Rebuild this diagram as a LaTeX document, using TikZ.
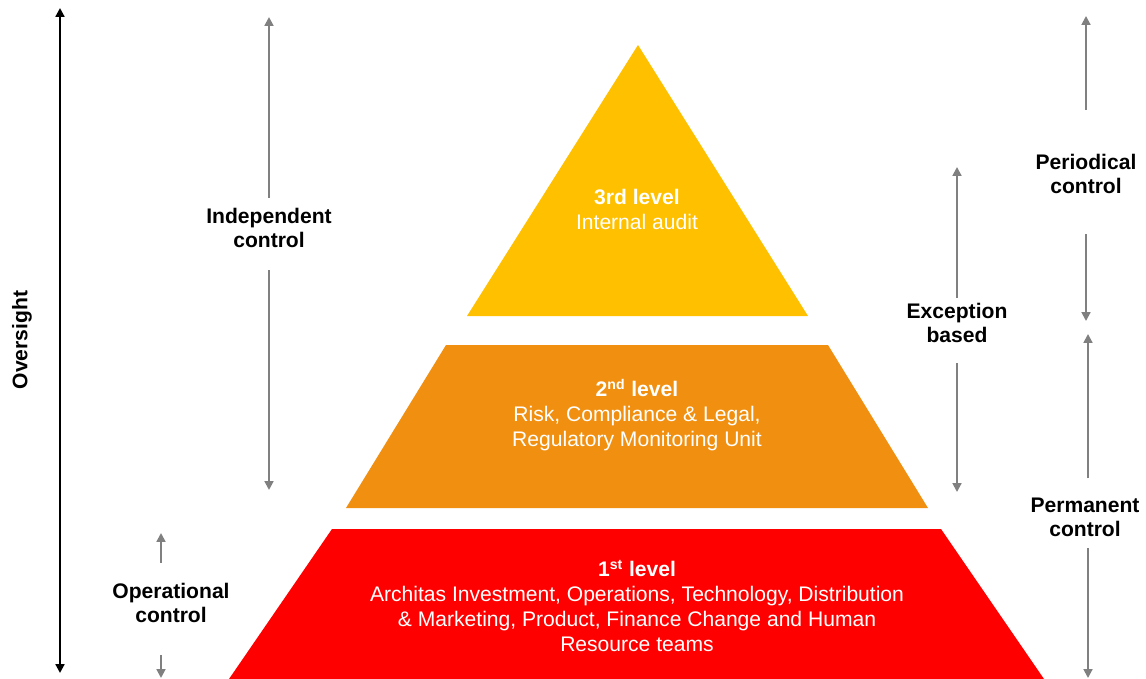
\documentclass[tikz,border=0pt]{standalone}
\usepackage{fontspec}
\setmainfont{Liberation Sans}
\usetikzlibrary{arrows.meta}
\definecolor{audit}{RGB}{255,192,0}
\definecolor{risk}{RGB}{241,144,16}
\definecolor{ops}{RGB}{255,0,0}
\definecolor{arrowgrey}{RGB}{128,128,128}

\begin{document}
\begin{tikzpicture}[x=0.02cm, y=-0.02cm,
  lbl/.style={font=\fontsize{12}{13.7}\selectfont\bfseries, align=center,
              inner sep=0pt},
  lvl/.style={font=\fontsize{12}{14.2}\selectfont, text=white, align=center,
              inner sep=0pt},
  garrow/.style={draw=arrowgrey, line width=1.1pt,
                 -{Triangle[width=5pt,length=5pt]}}
]
  \useasboundingbox (0,0) rectangle (1146,679);
  \fill[audit] (638,45) -- (808,316) -- (467,316) -- cycle;
  \fill[risk]  (446,345) -- (828,345) -- (928,508) -- (346,508) -- cycle;
  \fill[ops]   (332,529) -- (941,529) -- (1044,679) -- (229,679) -- cycle;
  \node[lvl] (third)  at (637,209) {\textbf{3rd level}\\Internal audit};
  \node[lvl] (second) at (637,415) {\textbf{2\textsuperscript{nd} level}\\
        Risk, Compliance \& Legal,\\Regulatory Monitoring Unit};
  \node[lvl] (first)  at (637,606) {\textbf{1\textsuperscript{st} level}\\
        Architas Investment, Operations, Technology, Distribution\\
        \& Marketing, Product, Finance Change and Human\\Resource teams};
  \node[lbl, rotate=90] (oversight) at (22,340) {Oversight};
  \node[lbl] (indep)  at (269,228)  {Independent\\control};
  \node[lbl] (oper)   at (171,603)  {Operational\\control};
  \node[lbl] (except) at (957,323)  {Exception\\based};
  \node[lbl] (period) at (1086,174) {Periodical\\control};
  \node[lbl] (perm)   at (1085,517) {Permanent\\control};
  \coordinate (ov-top) at (60,8);
  \coordinate (ov-bot) at (60,673);
  \draw[line width=1.2pt, {Triangle[width=5pt,length=5pt]}-{Triangle[width=5pt,length=5pt]}]
        (ov-bot) -- (ov-top);
  \draw[garrow, shorten <=5.7pt]  (indep.north)  -- (269,17);
  \draw[garrow, shorten <=12.5pt] (indep.south)  -- (269,490);
  \draw[garrow, shorten <=11.4pt] (oper.north -| 161,0) -- (161,533);
  \draw[garrow, shorten <=18pt]   (oper.south -| 161,0) -- (161,678);
  \draw[garrow, shorten <=2.8pt]  (except.north) -- (957,167);
  \draw[garrow, shorten <=11.4pt] (except.south) -- (957,492);
  \draw[garrow, shorten <=25pt]   (period.north) -- (1086,16);
  \draw[garrow, shorten <=22.8pt] (period.south) -- (1086,321);
  \draw[garrow, shorten <=10.8pt] (perm.north -| 1088,0) -- (1088,334);
  \draw[garrow, shorten <=6.3pt]  (perm.south -| 1088,0) -- (1088,678);
\end{tikzpicture}
\end{document}
